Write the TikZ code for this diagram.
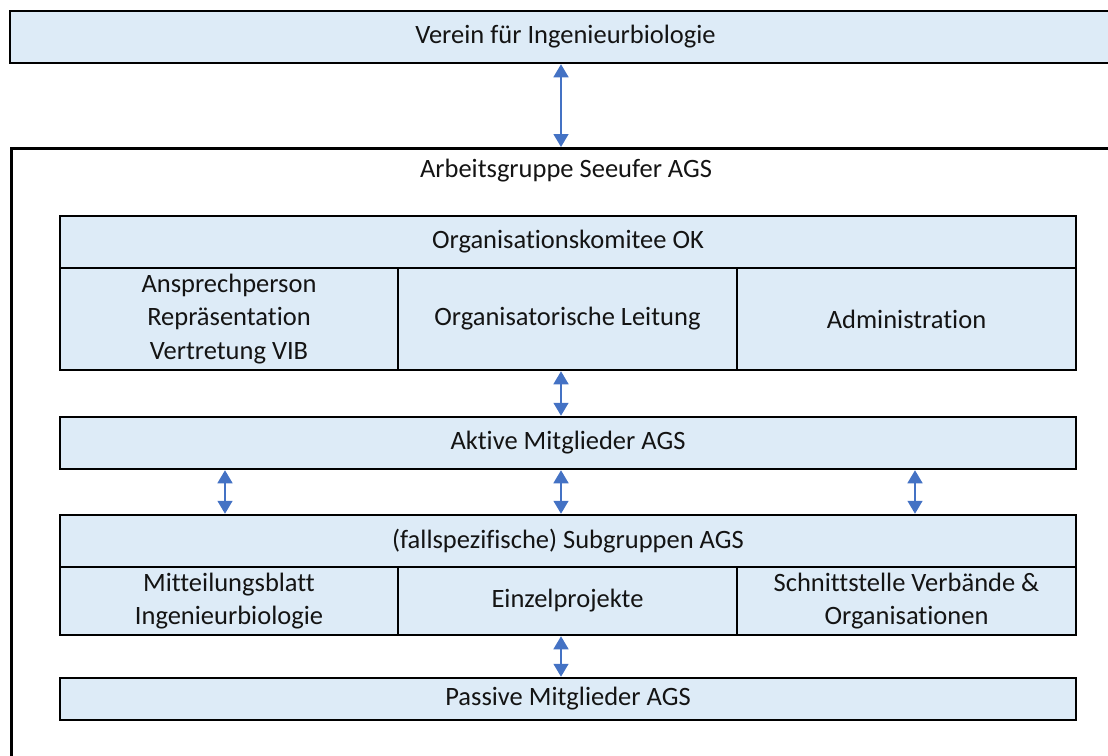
\documentclass[tikz,border=0pt]{standalone}
\usepackage{fontspec}
\setmainfont[Ligatures={NoCommon}]{Carlito}
\usetikzlibrary{arrows.meta}
\definecolor{boxfill}{RGB}{221,235,247}
\definecolor{arrowblue}{RGB}{68,114,196}
\definecolor{txt}{RGB}{20,20,20}
\begin{document}
\begin{tikzpicture}[x=1pt,y=-1pt,
  font=\fontsize{26.5}{33.5}\selectfont,
  box/.style={draw=black, line width=2.5pt, fill=boxfill, inner sep=0pt, align=center, text=txt},
  frame/.style={draw=black, line width=2.5pt, inner sep=0pt},
  label/.style={inner sep=0pt, text=txt},
  biarrow/.style={{Triangle[width=15pt,length=13pt]}-{Triangle[width=15pt,length=13pt]}, draw=arrowblue, fill=arrowblue, line width=1.5pt}]
\useasboundingbox (0,0) rectangle (1108,755);
\clip (0,0) rectangle (1108,755);
% coordinates for arrow columns
\coordinate (ax) at (561,0);
\coordinate (lx) at (225,0);
\coordinate (rx) at (915,0);
% top
\node[box, minimum width=1111, minimum height=52] (vib) at (565.5,37) {Verein für Ingenieurbiologie};
% outer frame
\node[frame, minimum width=1111, minimum height=700, anchor=north west] (ags) at (10,147) {};
\node[label] (agstitle) at (566,171) {Arbeitsgruppe Seeufer AGS};
% OK block
\node[box, minimum width=1016, minimum height=52] (ok) at (568,242) {Organisationskomitee OK};
\node[box, minimum width=338, minimum height=102] (ap) at (229,319) {Ansprechperson\\Repräsentation\\Vertretung VIB};
\node[box, minimum width=339, minimum height=102] (ol) at (567.5,319) {\raisebox{-2pt}{Organisatorische Leitung}};
\node[box, minimum width=339, minimum height=102] (adm) at (906.5,319) {Administration};
% Aktive
\node[box, minimum width=1016, minimum height=52] (akt) at (568,443) {Aktive Mitglieder AGS};
% Subgruppen block
\node[box, minimum width=1016, minimum height=52] (sub) at (568,541) {(fallspezifische) Subgruppen AGS};
\node[box, minimum width=338, minimum height=68] (mb) at (229,601) {Mitteilungsblatt\\Ingenieurbiologie};
\node[box, minimum width=339, minimum height=68] (ez) at (567.5,601) {Einzelprojekte};
\node[box, minimum width=339, minimum height=68] (sv) at (906.5,601) {Schnittstelle Verbände \&\\Organisationen};
% Passive
\node[box, minimum width=1016, minimum height=42] (pas) at (568,699) {Passive Mitglieder AGS};
% arrows
\draw[biarrow] (vib.south -| ax) -- (ags.north -| ax);
\draw[biarrow] (ol.south -| ax) -- (akt.north -| ax);
\draw[biarrow] (akt.south -| lx) -- (sub.north -| lx);
\draw[biarrow] (akt.south -| ax) -- (sub.north -| ax);
\draw[biarrow] (akt.south -| rx) -- (sub.north -| rx);
\draw[biarrow] (ez.south -| ax) -- (pas.north -| ax);
\end{tikzpicture}
\end{document}
